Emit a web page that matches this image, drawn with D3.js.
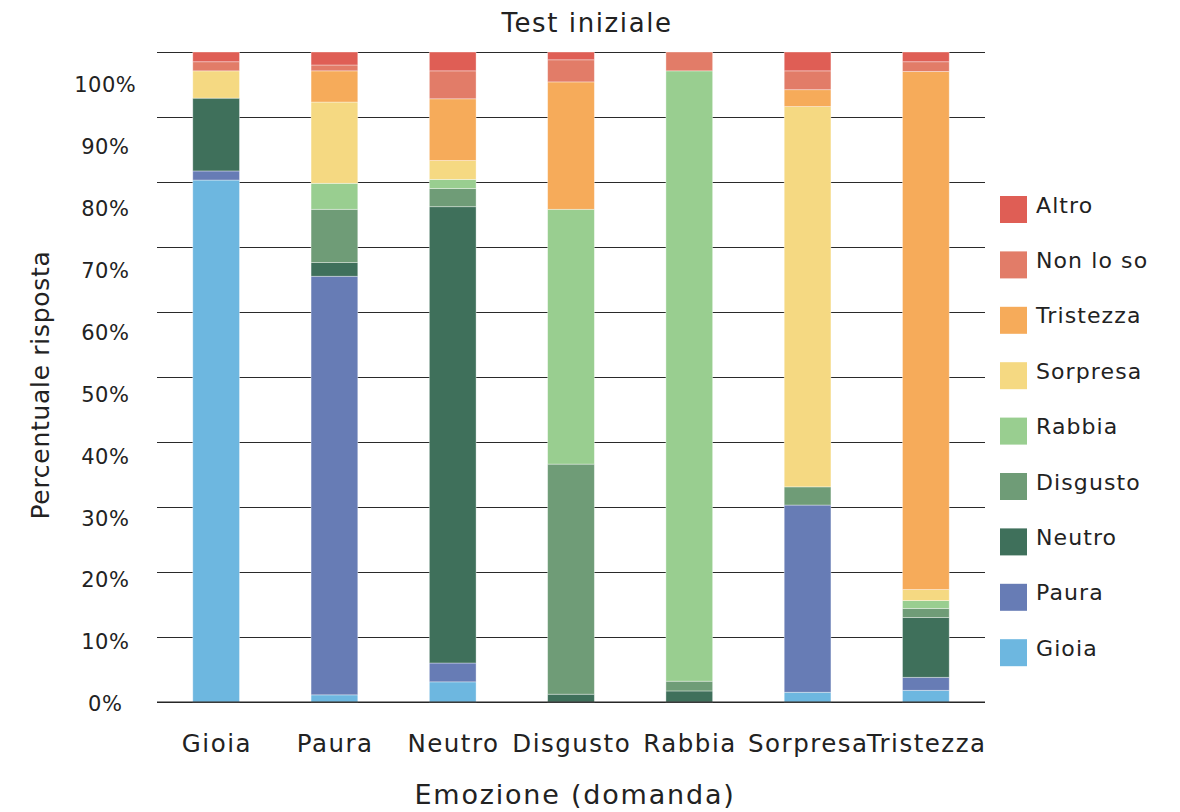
<!DOCTYPE html>
<html lang="it">
<head>
<meta charset="utf-8">
<title>Test iniziale</title>
<script src="https://cdn.jsdelivr.net/npm/d3@7/dist/d3.min.js"></script>
<style>
  html, body { margin: 0; padding: 0; background: #fff; }
  svg { display: block; font-family: "DejaVu Sans", "Noto Sans", sans-serif; }
  text { fill: #222; }
</style>
</head>
<body>
<svg id="chart" width="1180" height="812"></svg>
<script>
// Emotion shown in each question (x axis)
const categories = ["Gioia", "Paura", "Neutro", "Disgusto", "Rabbia", "Sorpresa", "Tristezza"];

// Answer given, stacked bottom to top
const seriesNames = ["Gioia", "Paura", "Neutro", "Disgusto", "Rabbia", "Sorpresa", "Tristezza", "Non lo so", "Altro"];
const seriesColors = ["#6db7e0", "#677cb5", "#3f705b", "#6f9c77", "#99ce90", "#f5d982", "#f6ab5a", "#e27c68", "#df5e55"];

// Percentage of answers per question, one array per answer
const gioia     = [80.3,  1.1,  3.1,  0.0,  0.0,  1.5,  1.8];
const paura     = [ 1.4, 64.4,  2.9,  0.0,  0.0, 28.8,  2.0];
const neutro    = [11.2,  2.1, 70.2,  1.2,  1.7,  0.0,  9.2];
const disgusto  = [ 0.0,  8.2,  2.8, 35.4,  1.5,  2.8,  1.4];
const rabbia    = [ 0.0,  4.0,  1.4, 39.2, 93.9,  0.0,  1.2];
const sorpresa  = [ 4.2, 12.5,  2.9,  0.0,  0.0, 58.5,  1.7];
const tristezza = [ 0.0,  4.8,  9.5, 19.6,  0.0,  2.6, 79.7];
const nonLoSo   = [ 1.4,  0.9,  4.3,  3.4,  2.9,  2.9,  1.5];
const altro     = [ 1.5,  2.0,  2.9,  1.2,  0.0,  2.9,  1.5];

const yTicks = [0, 10, 20, 30, 40, 50, 60, 70, 80, 90, 100];

const seriesValues = [gioia, paura, neutro, disgusto, rabbia, sorpresa, tristezza, nonLoSo, altro];

// Build one row per question for d3.stack
const rows = categories.map((c, i) => {
  const row = { category: c };
  seriesNames.forEach((s, j) => { row[s] = seriesValues[j][i]; });
  return row;
});

const width = 1180, height = 812;
const margin = { top: 52, right: 195, bottom: 110, left: 157 };

const svg = d3.select("#chart");

const x = d3.scaleBand()
  .domain(categories)
  .range([margin.left, width - margin.right])
  .paddingInner(0.605)
  .paddingOuter(0.3025);

const y = d3.scaleLinear()
  .domain([0, 100])
  .range([height - margin.bottom, margin.top]);

// Tick labels sit on their own, slightly tighter vertical scale
const yLabel = d3.scaleLinear()
  .domain([0, 100])
  .range([height - margin.bottom + 2, 85]);

const color = d3.scaleOrdinal().domain(seriesNames).range(seriesColors);

// Horizontal gridlines
svg.append("g")
  .attr("class", "grid")
  .attr("transform", `translate(${margin.left},0)`)
  .call(d3.axisLeft(y).tickValues(yTicks).tickSize(-(width - margin.left - margin.right)).tickFormat(""))
  .call(g => g.select(".domain").remove())
  .call(g => g.selectAll("line").attr("stroke", "#2a2a2a").attr("stroke-width", 1.2));

// Y tick labels
svg.append("g")
  .attr("transform", `translate(105,0)`)
  .call(d3.axisLeft(yLabel).tickValues(yTicks).tickSize(0).tickPadding(0).tickFormat(d => d + "%"))
  .call(g => g.select(".domain").remove())
  .call(g => g.selectAll("text")
    .attr("text-anchor", "middle")
    .attr("font-size", 21)
    .attr("letter-spacing", 0.5)
    .attr("dx", 0.25)
    .attr("font-family", "DejaVu Sans, sans-serif")
    .attr("fill", "#222"));

// Stacked bars
const stack = d3.stack().keys(seriesNames)(rows);

svg.append("g")
  .selectAll("g")
  .data(stack)
  .join("g")
  .attr("fill", d => color(d.key))
  .selectAll("rect")
  .data(d => d)
  .join("rect")
  .attr("x", d => x(d.data.category))
  .attr("width", x.bandwidth())
  .attr("y", d => y(d[1]))
  .attr("height", d => y(d[0]) - y(d[1]))
  .attr("stroke", "rgba(255,255,255,0.45)")
  .attr("stroke-width", 0.8);

// Baseline
svg.append("line")
  .attr("x1", margin.left)
  .attr("x2", width - margin.right)
  .attr("y1", y(0))
  .attr("y2", y(0))
  .attr("stroke", "#222")
  .attr("stroke-width", 1.2);

// X axis labels
svg.append("g")
  .attr("transform", `translate(0,${height - margin.bottom + 33})`)
  .call(d3.axisBottom(x).tickSize(0).tickPadding(0))
  .call(g => g.select(".domain").remove())
  .call(g => g.selectAll("text")
    .attr("font-size", 24.5)
    .attr("letter-spacing", 1.5)
    .attr("dx", 0.75)
    .attr("font-family", "DejaVu Sans, sans-serif")
    .attr("fill", "#222"));

// Title
svg.append("text")
  .attr("x", 587)
  .attr("y", 32)
  .attr("text-anchor", "middle")
  .attr("font-size", 26)
  .attr("letter-spacing", 1.6)
  .text("Test iniziale");

// Axis titles
svg.append("text")
  .attr("x", 575)
  .attr("y", 804)
  .attr("text-anchor", "middle")
  .attr("font-size", 27)
  .attr("letter-spacing", 1.8)
  .text("Emozione (domanda)");

svg.append("text")
  .attr("transform", `translate(49,${(y(0) + y(100)) / 2 + 8}) rotate(-90)`)
  .attr("text-anchor", "middle")
  .attr("font-size", 25)
  .attr("letter-spacing", 0.7)
  .text("Percentuale risposta");

// Legend, top entry is the top of the stack
const legendItems = seriesNames.slice().reverse();
const legend = svg.append("g").attr("transform", "translate(1000,196)");
const item = legend.selectAll("g")
  .data(legendItems)
  .join("g")
  .attr("transform", (d, i) => `translate(0,${i * 55.4})`);
item.append("rect")
  .attr("width", 27)
  .attr("height", 27)
  .attr("fill", d => color(d));
item.append("text")
  .attr("x", 36)
  .attr("y", 16.5)
  .attr("font-size", 22)
  .attr("letter-spacing", 1.1)
  .text(d => d);
</script>
</body>
</html>
